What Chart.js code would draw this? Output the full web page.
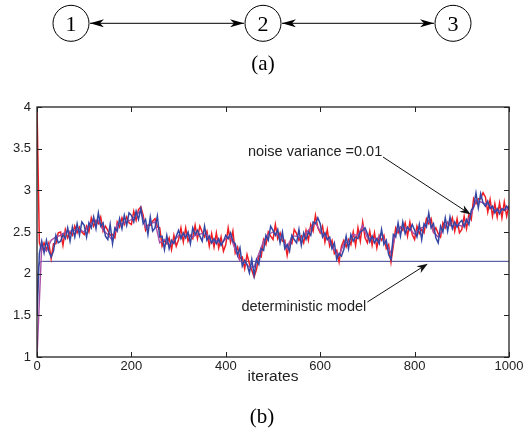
<!DOCTYPE html>
<html>
<head>
<meta charset="utf-8">
<script src="https://cdn.jsdelivr.net/npm/chart.js@4.4.0/dist/chart.umd.min.js"></script>
<style>
  html, body { margin: 0; padding: 0; background: #fff; }
  #wrap { position: relative; width: 526px; height: 431px; overflow: hidden; }
  #chart, #diagram { position: absolute; left: 0; top: 0; }
  #diagram text { font-family: 'Liberation Serif', 'Times New Roman', serif; fill: #000; }
</style>
</head>
<body>
<div id="wrap">
  <canvas id="chart" width="526" height="431"></canvas>
  <svg id="diagram" width="526" height="431">
    <defs>
      <marker id="ah" viewBox="0 0 14 8" refX="14" refY="4" markerWidth="14" markerHeight="8"
              markerUnits="userSpaceOnUse" orient="auto-start-reverse">
        <path d="M0,0 L14,4 L0,8 L4,4 z" fill="#000"/>
      </marker>
    </defs>
    <circle cx="71" cy="23.3" r="18" fill="none" stroke="#000" stroke-width="1"/>
    <circle cx="263" cy="23.3" r="18" fill="none" stroke="#000" stroke-width="1"/>
    <circle cx="453" cy="23.3" r="18" fill="none" stroke="#000" stroke-width="1"/>
    <text x="71" y="31" text-anchor="middle" font-size="22">1</text>
    <text x="263" y="31" text-anchor="middle" font-size="22">2</text>
    <text x="453" y="31" text-anchor="middle" font-size="22">3</text>
    <line x1="90" y1="23.3" x2="244" y2="23.3" stroke="#000" stroke-width="1"
          marker-start="url(#ah)" marker-end="url(#ah)"/>
    <line x1="282" y1="23.3" x2="434" y2="23.3" stroke="#000" stroke-width="1"
          marker-start="url(#ah)" marker-end="url(#ah)"/>
    <text x="263" y="70" text-anchor="middle" font-size="21">(a)</text>
    <text x="262" y="423" text-anchor="middle" font-size="21">(b)</text>
  </svg>
</div>
<script>
// Data (iterates sampled every 5 for red/blue, every 10 for magenta)
const step = 5;
const magentaStep = 10;

const blueVals = [
  1.50, 2.24, 2.39, 2.25, 2.40, 2.27, 2.20, 2.27, 2.46, 2.37,
  2.39, 2.47, 2.42, 2.55, 2.39, 2.56, 2.44, 2.60, 2.46, 2.62,
  2.58, 2.44, 2.61, 2.55, 2.68, 2.54, 2.73, 2.57, 2.61, 2.45,
  2.41, 2.59, 2.36, 2.55, 2.51, 2.66, 2.54, 2.70, 2.58, 2.73,
  2.70, 2.62, 2.75, 2.65, 2.78, 2.60, 2.65, 2.47, 2.68, 2.51,
  2.55, 2.69, 2.44, 2.45, 2.29, 2.46, 2.30, 2.40, 2.36, 2.45,
  2.52, 2.42, 2.49, 2.43, 2.50, 2.36, 2.55, 2.47, 2.52, 2.45,
  2.39, 2.57, 2.40, 2.45, 2.37, 2.42, 2.36, 2.42, 2.34, 2.39,
  2.46, 2.42, 2.49, 2.39, 2.36, 2.22, 2.31, 2.09, 2.16, 2.11,
  2.01, 2.17, 1.98, 2.17, 2.11, 2.30, 2.28, 2.46, 2.40, 2.57,
  2.52, 2.46, 2.53, 2.37, 2.50, 2.30, 2.35, 2.27, 2.46, 2.41,
  2.37, 2.53, 2.34, 2.49, 2.41, 2.50, 2.46, 2.62, 2.60, 2.67,
  2.60, 2.44, 2.49, 2.41, 2.44, 2.30, 2.37, 2.17, 2.24, 2.21,
  2.29, 2.45, 2.30, 2.47, 2.39, 2.44, 2.42, 2.50, 2.52, 2.55,
  2.48, 2.38, 2.45, 2.37, 2.42, 2.36, 2.53, 2.35, 2.40, 2.23,
  2.17, 2.47, 2.44, 2.61, 2.45, 2.62, 2.48, 2.56, 2.52, 2.59,
  2.52, 2.44, 2.59, 2.41, 2.60, 2.56, 2.73, 2.55, 2.60, 2.43,
  2.37, 2.57, 2.50, 2.67, 2.51, 2.68, 2.54, 2.62, 2.56, 2.61,
  2.64, 2.56, 2.65, 2.59, 2.76, 2.80, 2.97, 2.79, 2.96, 2.85,
  2.81, 2.87, 2.78, 2.81, 2.73, 2.78, 2.72, 2.78, 2.76, 2.81,
  2.77
];

const redVals = [
  4.00, 2.37, 2.28, 2.37, 2.29, 2.37, 2.18, 2.36, 2.36, 2.49,
  2.50, 2.34, 2.53, 2.43, 2.50, 2.46, 2.57, 2.49, 2.56, 2.50,
  2.47, 2.57, 2.50, 2.67, 2.57, 2.64, 2.60, 2.68, 2.51, 2.57,
  2.52, 2.46, 2.47, 2.43, 2.62, 2.56, 2.67, 2.59, 2.68, 2.61,
  2.59, 2.75, 2.64, 2.77, 2.80, 2.70, 2.52, 2.58, 2.58, 2.63,
  2.66, 2.56, 2.55, 2.33, 2.40, 2.36, 2.43, 2.29, 2.46, 2.33,
  2.41, 2.55, 2.38, 2.55, 2.39, 2.46, 2.42, 2.58, 2.42, 2.57,
  2.50, 2.44, 2.51, 2.33, 2.48, 2.32, 2.49, 2.31, 2.44, 2.27,
  2.35, 2.55, 2.38, 2.51, 2.25, 2.32, 2.18, 2.20, 2.06, 2.23,
  2.12, 2.04, 1.96, 2.05, 2.22, 2.20, 2.41, 2.35, 2.50, 2.45,
  2.41, 2.59, 2.42, 2.49, 2.39, 2.40, 2.22, 2.38, 2.36, 2.53,
  2.48, 2.40, 2.45, 2.37, 2.52, 2.40, 2.59, 2.51, 2.70, 2.55,
  2.49, 2.57, 2.38, 2.53, 2.33, 2.40, 2.24, 2.28, 2.14, 2.33,
  2.40, 2.32, 2.41, 2.35, 2.50, 2.34, 2.55, 2.39, 2.62, 2.43,
  2.37, 2.51, 2.34, 2.49, 2.31, 2.46, 2.40, 2.46, 2.30, 2.35,
  2.14, 2.34, 2.55, 2.49, 2.56, 2.52, 2.61, 2.45, 2.62, 2.47,
  2.41, 2.57, 2.48, 2.53, 2.49, 2.66, 2.60, 2.66, 2.50, 2.55,
  2.48, 2.44, 2.61, 2.55, 2.62, 2.58, 2.67, 2.51, 2.66, 2.49,
  2.53, 2.69, 2.54, 2.71, 2.65, 2.90, 2.84, 2.90, 2.90, 2.97,
  2.92, 2.74, 2.89, 2.69, 2.84, 2.68, 2.85, 2.67, 2.86, 2.69,
  2.82
];

const magentaVals = [
  1.00, 2.34, 2.27, 2.40, 2.44, 2.46, 2.50, 2.51, 2.52, 2.53,
  2.50, 2.58, 2.63, 2.64, 2.52, 2.47, 2.40, 2.60, 2.60, 2.62,
  2.65, 2.70, 2.76, 2.55, 2.60, 2.62, 2.37, 2.41, 2.34, 2.39,
  2.46, 2.46, 2.47, 2.44, 2.47, 2.48, 2.47, 2.37, 2.40, 2.36,
  2.42, 2.44, 2.29, 2.15, 2.13, 2.08, 2.08, 2.24, 2.39, 2.47,
  2.50, 2.46, 2.44, 2.30, 2.45, 2.45, 2.42, 2.49, 2.55, 2.61,
  2.51, 2.45, 2.38, 2.28, 2.22, 2.36, 2.38, 2.47, 2.46, 2.58,
  2.43, 2.43, 2.41, 2.48, 2.35, 2.25, 2.48, 2.56, 2.55, 2.54,
  2.47, 2.54, 2.56, 2.64, 2.50, 2.44, 2.53, 2.62, 2.57, 2.59,
  2.57, 2.62, 2.71, 2.88, 2.86, 2.84, 2.82, 2.76, 2.76, 2.77,
  2.78
];

// deterministic model: short transient then flat
const detIters = [0, 3, 6, 12, 1000];
const detVals = [1.50, 2.08, 2.14, 2.148, 2.148];

const xTicks = [0, 200, 400, 600, 800, 1000];
const yTicks = [1, 1.5, 2, 2.5, 3, 3.5, 4];

// annotation text + arrows, in data coordinates
const notes = [
  { text: 'noise variance =0.01', at: [447, 3.456], from: [733, 3.40], to: [919, 2.71] },
  { text: 'deterministic model', at: [433, 1.60], from: [700, 1.66], to: [828, 2.12] }
];

function toPoints(vals, dx) {
  return vals.map((v, i) => ({ x: i * dx, y: v }));
}

const sansFont = "'Liberation Sans', Arial, Helvetica, sans-serif";

// box, inward ticks and annotations
const framePlugin = {
  id: 'frame',
  afterDraw(chart) {
    const ctx = chart.ctx;
    const { left, right, top, bottom } = chart.chartArea;
    const xs = chart.scales.x, ys = chart.scales.y;
    const tl = 5;
    ctx.save();
    ctx.strokeStyle = '#222';
    ctx.lineWidth = 1;
    ctx.beginPath();
    xTicks.forEach(v => {
      const px = Math.round(xs.getPixelForValue(v)) + 0.5;
      ctx.moveTo(px, bottom); ctx.lineTo(px, bottom - tl);
      ctx.moveTo(px, top); ctx.lineTo(px, top + tl);
    });
    yTicks.forEach(v => {
      const py = Math.round(ys.getPixelForValue(v)) + 0.5;
      ctx.moveTo(left, py); ctx.lineTo(left + tl, py);
      ctx.moveTo(right, py); ctx.lineTo(right - tl, py);
    });
    ctx.stroke();
    ctx.lineWidth = 1.3;
    ctx.strokeRect(left, top, right - left, bottom - top);

    // annotations
    ctx.fillStyle = '#222';
    ctx.font = '14.5px ' + sansFont;
    ctx.textBaseline = 'middle';
    ctx.textAlign = 'left';
    notes.forEach(n => {
      ctx.fillText(n.text, xs.getPixelForValue(n.at[0]), ys.getPixelForValue(n.at[1]));
      const x1 = xs.getPixelForValue(n.from[0]), y1 = ys.getPixelForValue(n.from[1]);
      const x2 = xs.getPixelForValue(n.to[0]), y2 = ys.getPixelForValue(n.to[1]);
      const a = Math.atan2(y2 - y1, x2 - x1);
      ctx.strokeStyle = '#111';
      ctx.lineWidth = 1;
      ctx.beginPath();
      ctx.moveTo(x1, y1);
      ctx.lineTo(x2 - 6 * Math.cos(a), y2 - 6 * Math.sin(a));
      ctx.stroke();
      const L = 11, W = 4;
      ctx.beginPath();
      ctx.moveTo(x2, y2);
      ctx.lineTo(x2 - L * Math.cos(a) + W * Math.sin(a), y2 - L * Math.sin(a) - W * Math.cos(a));
      ctx.lineTo(x2 - 0.7 * L * Math.cos(a), y2 - 0.7 * L * Math.sin(a));
      ctx.lineTo(x2 - L * Math.cos(a) - W * Math.sin(a), y2 - L * Math.sin(a) + W * Math.cos(a));
      ctx.closePath();
      ctx.fillStyle = '#111';
      ctx.fill();
      ctx.fillStyle = '#222';
    });
    ctx.restore();
  }
};

new Chart(document.getElementById('chart'), {
  type: 'line',
  data: {
    datasets: [
      { label: 'blue', data: toPoints(blueVals, step), borderColor: '#3346a3', borderWidth: 1.5 },
      { label: 'magenta', data: toPoints(magentaVals, magentaStep), borderColor: '#a94fa6', borderWidth: 1.4 },
      { label: 'red', data: toPoints(redVals, step), borderColor: '#ee1d25', borderWidth: 1.5 },
      { label: 'deterministic', data: detIters.map((x, i) => ({ x: x, y: detVals[i] })), borderColor: '#3c3f8e', borderWidth: 1 }
    ]
  },
  options: {
    responsive: false,
    animation: false,
    events: [],
    elements: { point: { radius: 0 }, line: { tension: 0 } },
    layout: { padding: { top: 107, right: 17, left: 0, bottom: 0 } },
    plugins: { legend: { display: false }, tooltip: { enabled: false } },
    scales: {
      x: {
        type: 'linear', min: 0, max: 1000,
        afterBuildTicks: s => { s.ticks = xTicks.map(v => ({ value: v })); },
        afterFit: s => { s.height = 74; },
        grid: { display: false, drawTicks: false },
        border: { display: false },
        ticks: { padding: 2, color: '#222', font: { family: sansFont, size: 13 },
                 callback: v => String(v) },
        title: { display: true, text: 'iterates', color: '#222', padding: { top: 0, bottom: 45 },
                 font: { family: sansFont, size: 15.5 } }
      },
      y: {
        type: 'linear', min: 1, max: 4,
        afterBuildTicks: s => { s.ticks = yTicks.map(v => ({ value: v })); },
        afterFit: s => { s.width = 37; },
        grid: { display: false, drawTicks: false },
        border: { display: false },
        ticks: { padding: 6, color: '#222', font: { family: sansFont, size: 13 },
                 callback: v => String(v) }
      }
    }
  },
  plugins: [framePlugin]
});
</script>
</body>
</html>
